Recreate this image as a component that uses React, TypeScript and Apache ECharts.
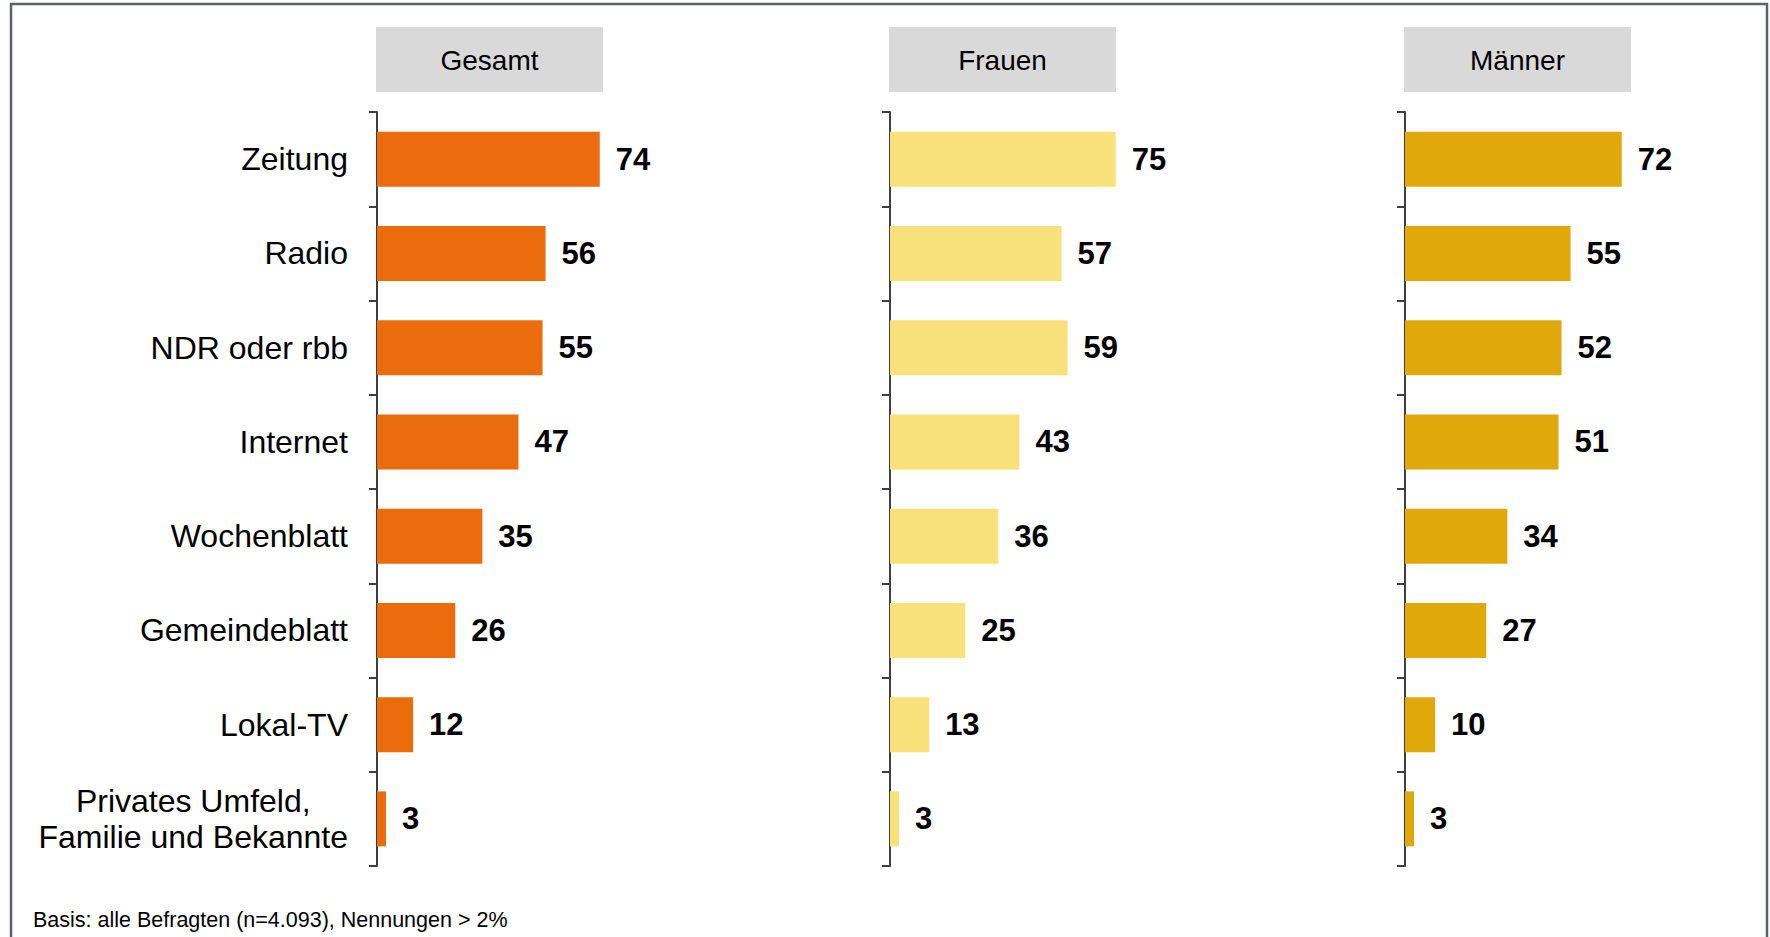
import React, { useEffect, useRef } from "react";
import * as echarts from "echarts";

const categories = [
  "Zeitung",
  "Radio",
  "NDR oder rbb",
  "Internet",
  "Wochenblatt",
  "Gemeindeblatt",
  "Lokal-TV",
  "Privates Umfeld,\nFamilie und Bekannte",
];
const panelTitles = ["Gesamt", "Frauen", "Männer"];
const gesamt = [74, 56, 55, 47, 35, 26, 12, 3];
const frauen = [75, 57, 59, 43, 36, 25, 13, 3];
const maenner = [72, 55, 52, 51, 34, 27, 10, 3];
const footnote = "Basis: alle Befragten (n=4.093), Nennungen > 2%";

const seriesData = [gesamt, frauen, maenner];
const colors = ["#EB6C0C", "#F8E07A", "#E0A80A"];
const axisLefts = [377, 890, 1405];
const FONT = "'Liberation Sans', Arial, Helvetica, sans-serif";

export default function App() {
  const ref = useRef<HTMLDivElement>(null);
  useEffect(() => {
    if (!ref.current) return;
    const chart = echarts.init(ref.current, null, { renderer: "svg" });
    const gridTop = 112;
    const gridHeight = 754;
    const gridWidth = 301;

    const grids = axisLefts.map((l) => ({
      left: l,
      top: gridTop,
      width: gridWidth,
      height: gridHeight,
      containLabel: false,
    }));
    const xAxes = axisLefts.map((_, i) => ({
      type: "value",
      gridIndex: i,
      min: 0,
      max: 100,
      show: false,
    }));
    const yAxes = axisLefts.map((_, i) => ({
      type: "category",
      gridIndex: i,
      data: categories,
      inverse: true,
      axisLine: { show: true, lineStyle: { color: "#3f3f3f", width: 2 } },
      axisTick: { show: true, length: 8, lineStyle: { color: "#3f3f3f", width: 2 } },
      axisLabel: {
        show: i === 0,
        margin: 29,
        fontSize: 32,
        color: "#000",
        fontFamily: FONT,
        lineHeight: 36,
        formatter: (v: string) =>
          v.indexOf("\n") >= 0
            ? v
                .split("\n")
                .map((s) => `{c|${s}}`)
                .join("\n")
            : v,
        rich: {
          c: {
            align: "center",
            fontSize: 32,
            lineHeight: 36,
            color: "#000",
            fontFamily: FONT,
          },
        },
      },
      splitLine: { show: false },
    }));
    const series = seriesData.map((d, i) => ({
      type: "bar",
      xAxisIndex: i,
      yAxisIndex: i,
      data: d,
      barWidth: 55,
      itemStyle: { color: colors[i] },
      label: {
        show: true,
        position: "right",
        distance: 16,
        fontSize: 31,
        fontWeight: "bold",
        color: "#000",
        fontFamily: FONT,
      },
    }));

    const graphics: any[] = [
      {
        type: "rect",
        shape: { x: 11, y: 4, width: 1756, height: 960 },
        style: { fill: "none", stroke: "#59636E", lineWidth: 2.5 },
        silent: true,
      },
      {
        type: "text",
        x: 33,
        y: 920,
        style: {
          text: footnote,
          fontSize: 21.5,
          fontFamily: FONT,
          fill: "#000",
          textVerticalAlign: "middle",
        },
      },
    ];
    axisLefts.forEach((l, i) => {
      graphics.push({
        type: "rect",
        shape: { x: l - 1, y: 27, width: 227, height: 65 },
        style: { fill: "#D9D9D9" },
      });
      graphics.push({
        type: "text",
        x: l - 1 + 113.5,
        y: 60,
        style: {
          text: panelTitles[i],
          fontSize: 28,
          fontFamily: FONT,
          fill: "#000",
          textAlign: "center",
          textVerticalAlign: "middle",
        },
      });
    });

    chart.setOption({
      animation: false,
      backgroundColor: "#fff",
      grid: grids,
      xAxis: xAxes,
      yAxis: yAxes,
      series,
      graphic: { elements: graphics },
    });
    return () => chart.dispose();
  }, []);
  return (
    <div
      ref={ref}
      style={{ position: "absolute", left: 0, top: 0, width: 1770, height: 937 }}
    />
  );
}
